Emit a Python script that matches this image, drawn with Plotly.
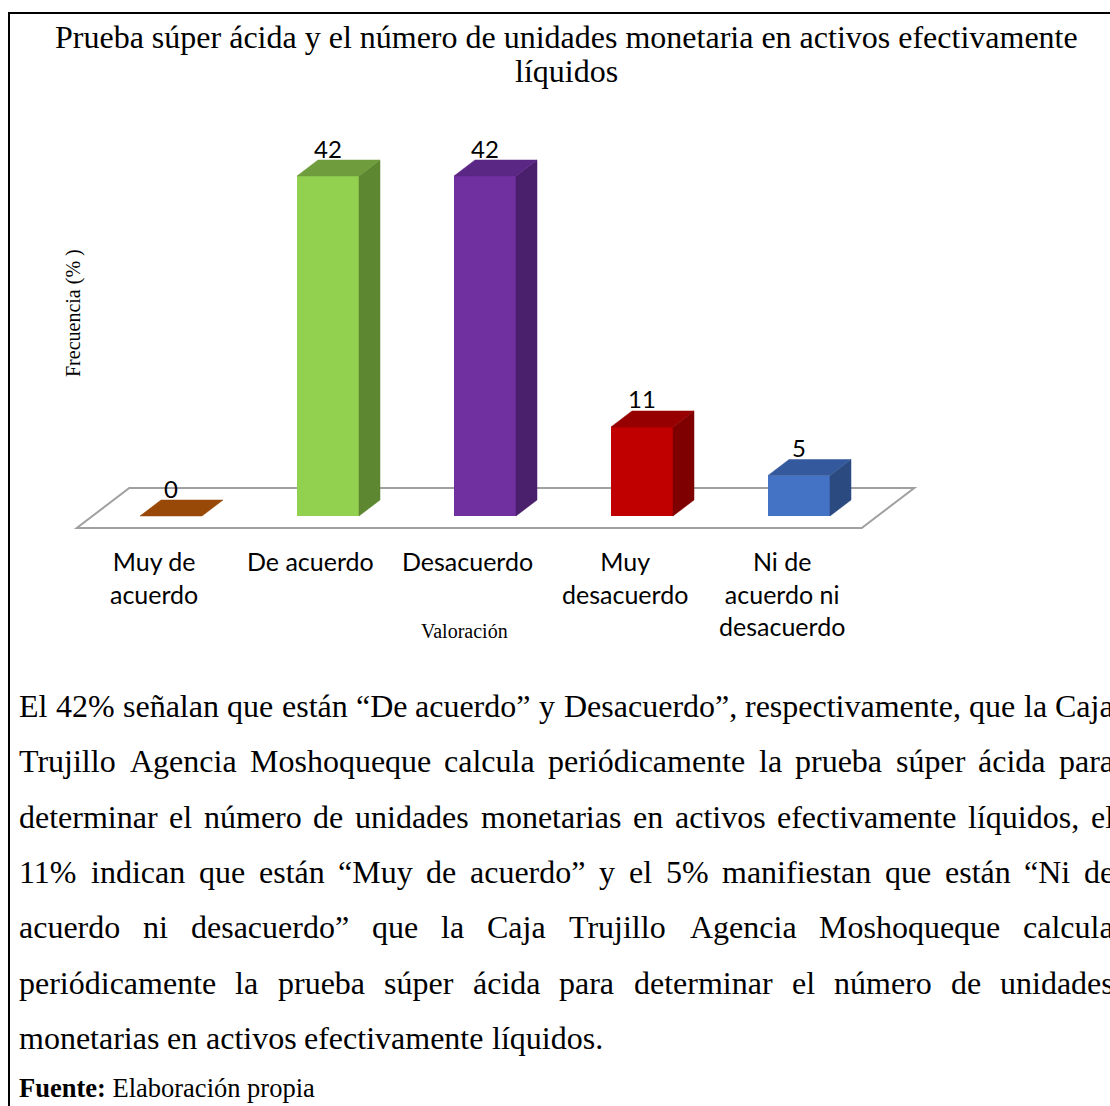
import plotly.graph_objects as go

# ---------------------------------------------------------------- data
categories = ["Muy de acuerdo", "De acuerdo", "Desacuerdo",
              "Muy desacuerdo", "Ni de acuerdo ni desacuerdo"]
tick_labels = ["Muy de<br>acuerdo", "De acuerdo", "Desacuerdo",
               "Muy<br>desacuerdo", "Ni de<br>acuerdo ni<br>desacuerdo"]
frecuencia = [0, 42, 42, 11, 5]

front_colors = ["#B4590C", "#92D050", "#7030A0", "#C00000", "#4472C4"]
side_colors = ["#7A3A05", "#5E8732", "#4A1F6B", "#7F0000", "#2B4A80"]
top_colors = ["#984807", "#6F9C3C", "#5B2784", "#960000", "#34599C"]

title_lines = ["Prueba súper ácida y el número de unidades monetaria en activos efectivamente",
               "líquidos"]
y_title = "Frecuencia (% )"
x_title = "Valoración"

paragraph_lines = [
    "El 42% señalan que están “De acuerdo” y Desacuerdo”, respectivamente, que la Caja",
    "Trujillo Agencia Moshoqueque calcula periódicamente la prueba súper ácida para",
    "determinar el número de unidades monetarias en activos efectivamente líquidos, el",
    "11% indican que están “Muy de acuerdo” y el 5% manifiestan que están “Ni de",
    "acuerdo ni desacuerdo” que la Caja Trujillo Agencia Moshoqueque calcula",
    "periódicamente la prueba súper ácida para determinar el número de unidades",
    "monetarias en activos efectivamente líquidos.",
]
source_label = "Fuente:"
source_text = "Elaboración propia"

# ---------------------------------------------------------------- page layout
W, H = 1110, 1106
SERIF = "Liberation Serif, Times New Roman, serif"
SANS = "Lato, Carlito, Calibri, sans-serif"

# chart scale: pixel position of the first category, spacing, baseline, px per unit
CAT_X0, CAT_STEP = 171.0, 157.0
BASE_Y, PX_PER_UNIT = 516.0, 8.095
PLOT_L, PLOT_R, PLOT_T, PLOT_B = 40, 960, 110, 550

HALF = 31.0 / CAT_STEP          # half width of the bar front face
DX = 21.0 / CAT_STEP            # depth offset (x) of the 3-D extrusion
DY = 16.0 / PX_PER_UNIT         # depth offset (y) of the 3-D extrusion


def px_x(p):
    return p / W


def px_y(p):
    return 1 - p / H


idx = list(range(len(categories)))

fig = go.Figure()

# front faces
fig.add_trace(go.Bar(
    x=idx, y=frecuencia, width=2 * HALF,
    marker=dict(color=front_colors, line=dict(width=0)),
    hoverinfo="skip", showlegend=False,
))

# side and top faces of each bar
for i, v in zip(idx, frecuencia):
    if v > 0:
        xs = [i + HALF, i + HALF + DX, i + HALF + DX, i + HALF, i + HALF]
        ys = [0, DY, v + DY, v, 0]
        fig.add_trace(go.Scatter(
            x=xs, y=ys, mode="lines", fill="toself",
            fillcolor=side_colors[i], line=dict(color=side_colors[i], width=0.5),
            hoverinfo="skip", showlegend=False))
    xs = [i - HALF, i + HALF, i + HALF + DX, i - HALF + DX, i - HALF]
    ys = [v, v, v + DY, v + DY, v]
    fig.add_trace(go.Scatter(
        x=xs, y=ys, mode="lines", fill="toself",
        fillcolor=top_colors[i], line=dict(color=top_colors[i], width=0.5),
        hoverinfo="skip", showlegend=False))

# floor of the 3-D plot area (drawn beneath the bars)
f_front, f_back = -0.75, 1.75
x_lo, x_hi = -0.5, len(categories) - 0.5
corners = [(x_lo + f_front * DX, f_front * DY), (x_hi + f_front * DX, f_front * DY),
           (x_hi + f_back * DX, f_back * DY), (x_lo + f_back * DX, f_back * DY)]
path = "M " + " L ".join(f"{cx},{cy}" for cx, cy in corners) + " Z"
shapes = [dict(type="path", path=path, xref="x", yref="y", layer="below",
               line=dict(color="#A0A0A0", width=2), fillcolor="rgba(0,0,0,0)")]

# page frame (left and top rules)
shapes.append(dict(type="line", xref="paper", yref="paper",
                   x0=px_x(9), x1=px_x(9), y0=px_y(12), y1=px_y(H + 5),
                   line=dict(color="black", width=2)))
shapes.append(dict(type="line", xref="paper", yref="paper",
                   x0=px_x(8), x1=px_x(W + 5), y0=px_y(13), y1=px_y(13),
                   line=dict(color="black", width=2)))

annotations = []

# data labels
for i, v in zip(idx, frecuencia):
    annotations.append(dict(x=i, y=v, xref="x", yref="y", text=str(v),
                            showarrow=False, yanchor="middle", yshift=28,
                            font=dict(family=SANS, size=24, color="black")))

# category labels
for i, lab in zip(idx, tick_labels):
    annotations.append(dict(x=i - 0.11, y=px_y(545), xref="x", yref="paper",
                            text=lab, showarrow=False, xanchor="center",
                            yanchor="top", align="center", borderpad=0,
                            font=dict(family=SANS, size=25, color="black")))

# title
for k, line in enumerate(title_lines):
    annotations.append(dict(x=px_x(566), y=px_y(37 + 34 * k), xref="paper", yref="paper",
                            text=line, showarrow=False, xanchor="center",
                            yanchor="middle", borderpad=0,
                            font=dict(family=SERIF, size=32, color="black")))

# axis titles
annotations.append(dict(x=px_x(74), y=px_y(313), xref="paper", yref="paper",
                        text=y_title, textangle=-90, showarrow=False,
                        xanchor="center", yanchor="middle",
                        font=dict(family=SERIF, size=20, color="black")))
annotations.append(dict(x=px_x(464), y=px_y(631), xref="paper", yref="paper",
                        text=x_title, showarrow=False,
                        xanchor="center", yanchor="middle",
                        font=dict(family=SERIF, size=20, color="black")))

# ---------------------------------------------------------------- justified body text
_lower = dict(zip("abcdefghijklmnopqrstuvwxyz",
                  [444, 500, 444, 500, 444, 333, 500, 500, 278, 278, 500, 278, 778,
                   500, 500, 500, 500, 333, 389, 278, 500, 500, 722, 500, 500, 444]))
_upper = dict(zip("ABCDEFGHIJKLMNOPQRSTUVWXYZ",
                  [722, 667, 667, 722, 611, 556, 722, 722, 333, 389, 722, 611, 889,
                   722, 722, 556, 722, 667, 556, 611, 722, 722, 944, 722, 722, 611]))
ADV = {**_lower, **_upper}
ADV.update({d: 500 for d in "0123456789"})
ADV.update({"%": 833, ",": 250, ".": 250, ":": 278, "“": 444, "”": 444,
            " ": 250, "(": 333, ")": 333})
ADV.update({"á": 444, "é": 444, "í": 278, "ó": 500, "ú": 500, "ñ": 500})


def text_width(s, size):
    return sum(ADV.get(c, 500) for c in s) * size / 1000.0


BODY_SIZE = 32
LEFT, RIGHT = 18.0, 1113.0
LINE_Y0, LINE_STEP = 706.0, 55.3

for k, line in enumerate(paragraph_lines):
    yc = LINE_Y0 + LINE_STEP * k
    words = line.split(" ")
    last = k == len(paragraph_lines) - 1
    if last:
        gap = text_width(" ", BODY_SIZE)
    else:
        total = sum(text_width(w, BODY_SIZE) for w in words)
        gap = (RIGHT - LEFT - total) / (len(words) - 1)
    x = LEFT
    for w in words:
        annotations.append(dict(x=px_x(x), y=px_y(yc), xref="paper", yref="paper",
                                text=w, showarrow=False, xanchor="left",
                                yanchor="middle", borderpad=0,
                                font=dict(family=SERIF, size=BODY_SIZE, color="black")))
        x += text_width(w, BODY_SIZE) + gap

annotations.append(dict(x=px_x(18), y=px_y(1088), xref="paper", yref="paper",
                        text=f"<b>{source_label}</b> {source_text}", showarrow=False,
                        xanchor="left", yanchor="middle", borderpad=0,
                        font=dict(family=SERIF, size=26.5, color="black")))

# ---------------------------------------------------------------- axes / layout
x_range = [(PLOT_L - CAT_X0) / CAT_STEP, (PLOT_R - CAT_X0) / CAT_STEP]
y_range = [(BASE_Y - PLOT_B) / PX_PER_UNIT, (BASE_Y - PLOT_T) / PX_PER_UNIT]

fig.update_layout(
    width=W, height=H,
    margin=dict(l=0, r=0, t=0, b=0),
    paper_bgcolor="white", plot_bgcolor="white",
    showlegend=False,
    xaxis=dict(domain=[px_x(PLOT_L), px_x(PLOT_R)], range=x_range,
               visible=False, fixedrange=True),
    yaxis=dict(domain=[px_y(PLOT_B), px_y(PLOT_T)], range=y_range,
               visible=False, fixedrange=True),
    shapes=shapes,
    annotations=annotations,
)

fig.write_html("out.html")
